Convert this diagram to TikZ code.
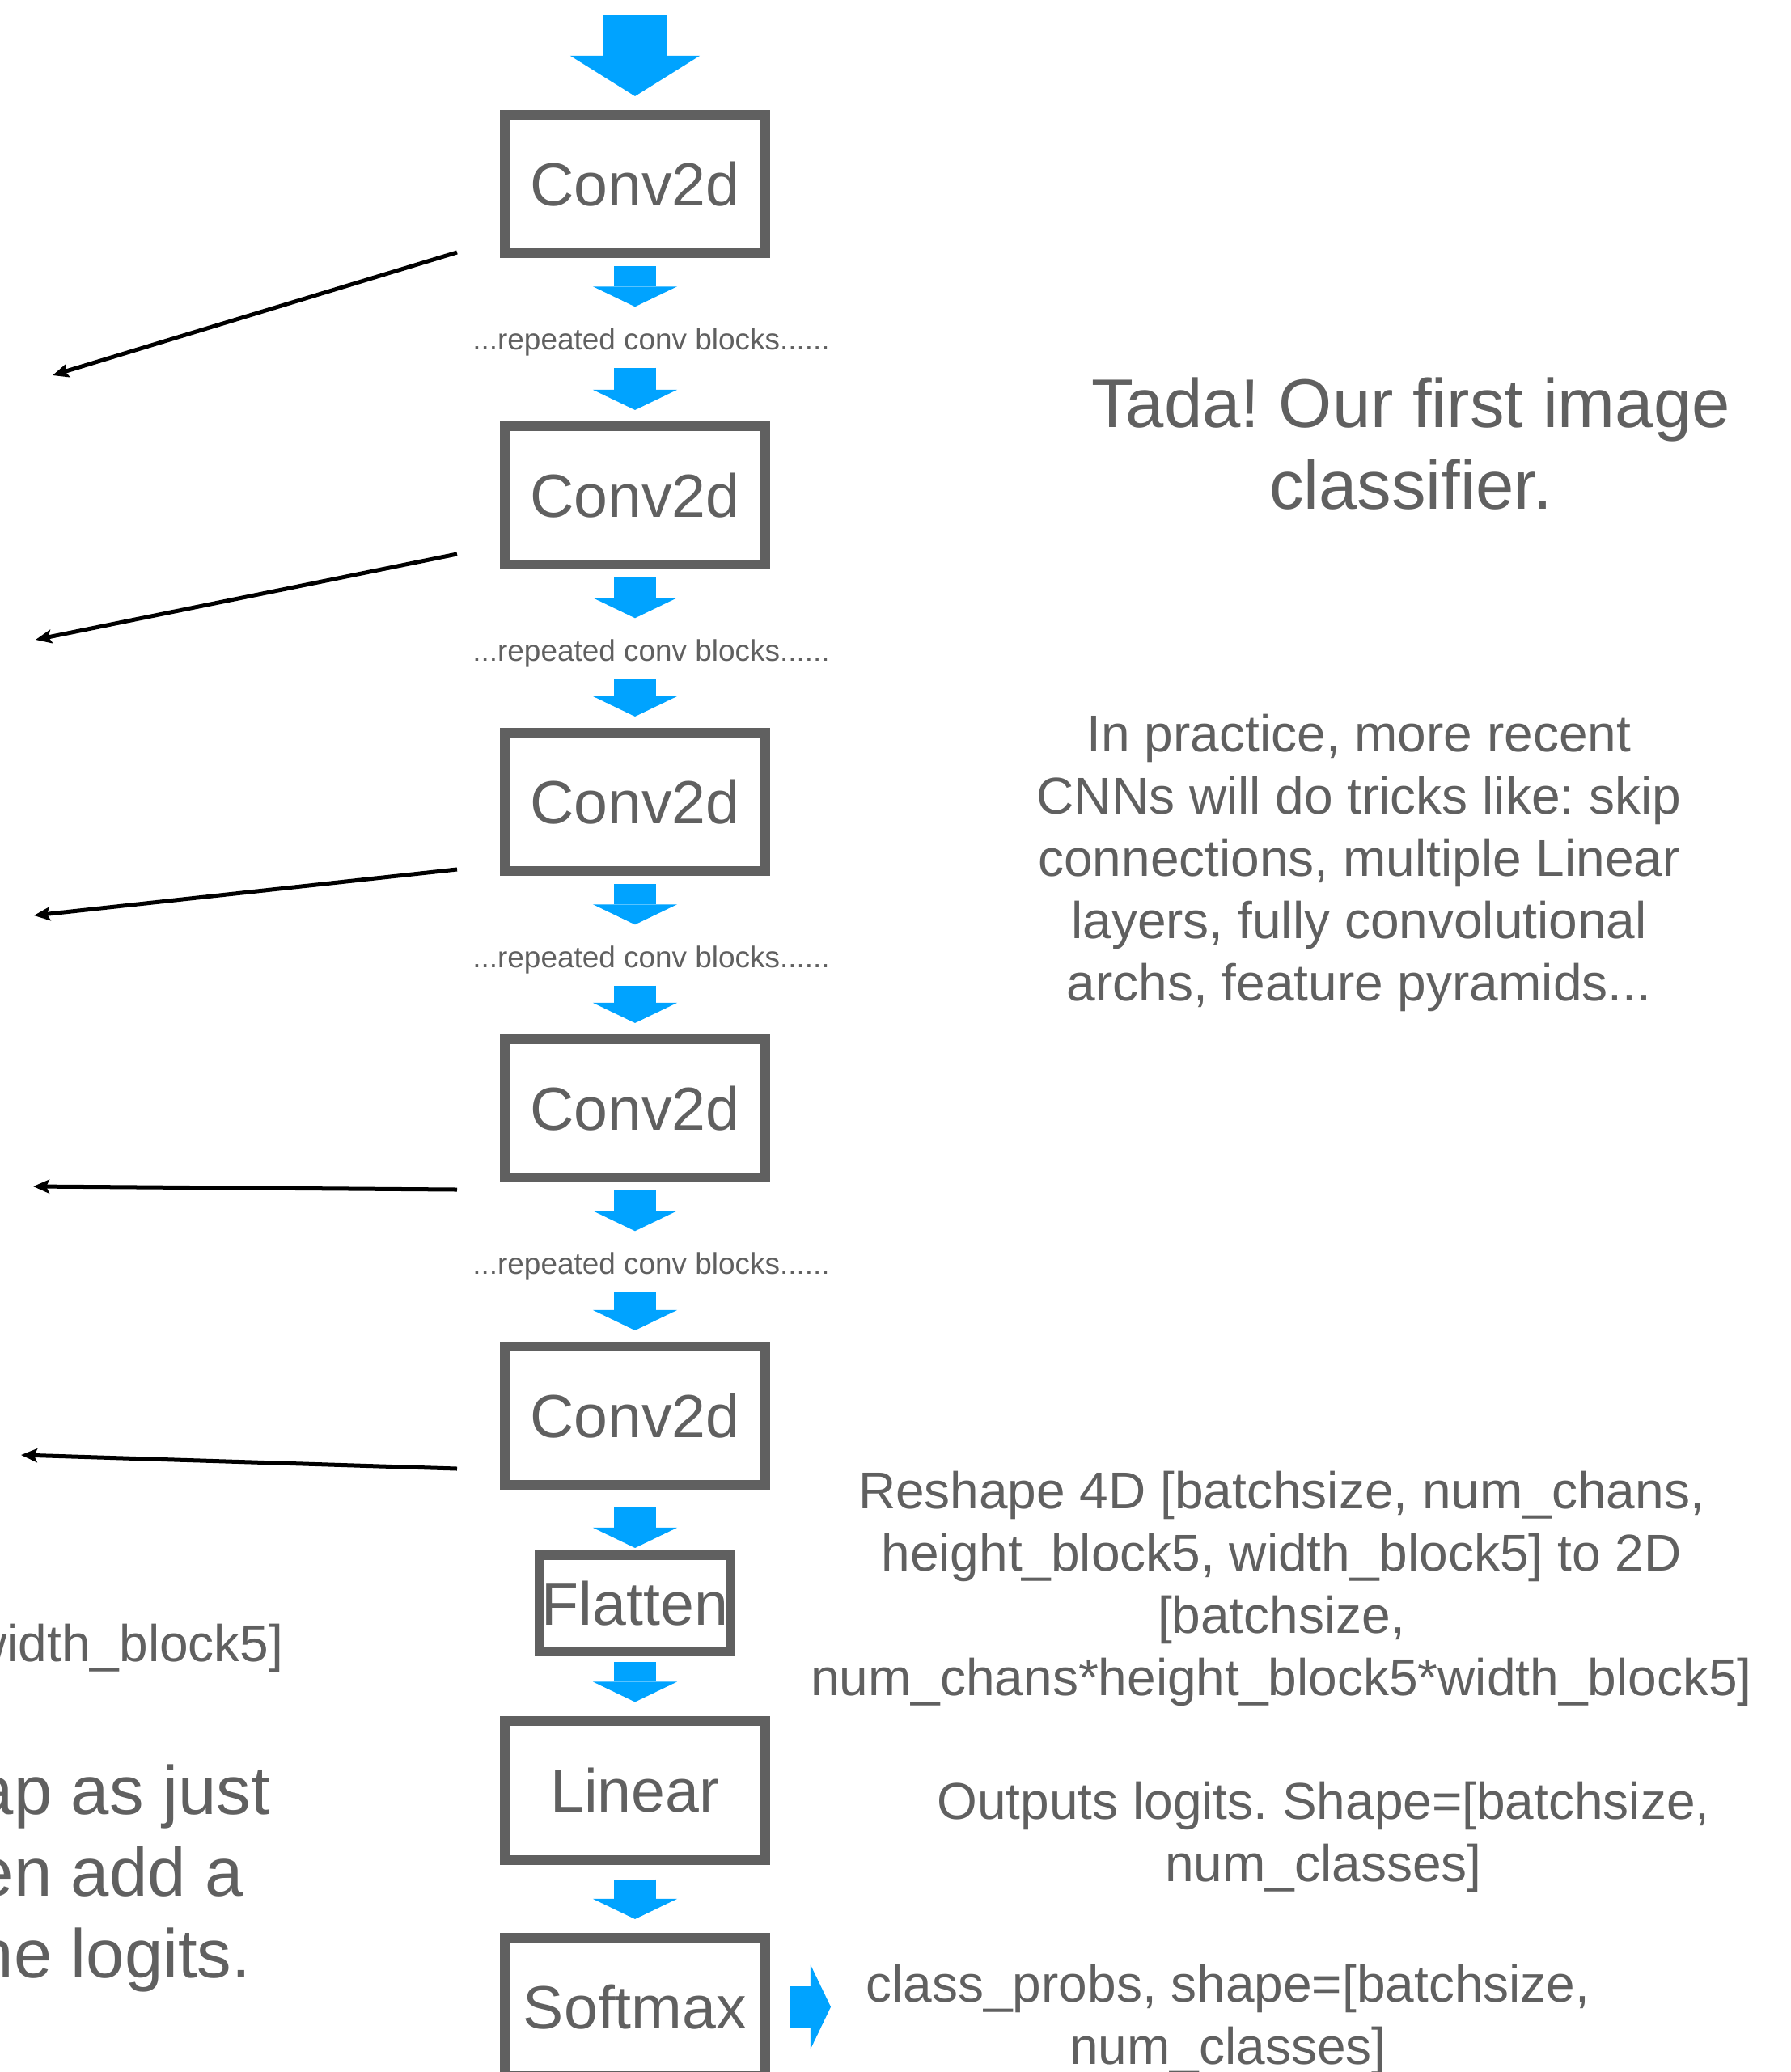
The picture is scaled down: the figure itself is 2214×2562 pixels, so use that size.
\documentclass[tikz,border=0pt]{standalone}
\usepackage{fontspec}
\setmainfont{Liberation Sans}
\usepackage{tikz}
\usetikzlibrary{arrows.meta}
\definecolor{flowblue}{RGB}{0,163,255}
\definecolor{inkgray}{RGB}{96,96,96}
\frenchspacing

\begin{document}
\begin{tikzpicture}[x=0.01cm, y=0.01cm]
      \tikzstyle{layer} = [draw=inkgray, line width=0.12cm, minimum width=3.22cm, minimum height=1.71cm, inner sep=0pt, text=inkgray, font=\fontsize{21.4}{26}\selectfont]
      \tikzstyle{flow} = [draw=flowblue, line width=0.52cm, -{Triangle[length=0.25cm, width=1.04cm, line width=0pt]}]
      \tikzstyle{bigflow} = [draw=flowblue, line width=0.8cm, -{Triangle[length=0.5cm, width=1.6cm, line width=0pt]}]
      \tikzstyle{dots} = [inner sep=0pt, text height=0.27cm, text depth=0.08cm, text=inkgray, font=\fontsize{10.5}{12}\selectfont]
      \tikzstyle{note} = [inner sep=0pt, align=center, text=inkgray, font=\fontsize{18.2}{21.9}\selectfont]
      \tikzstyle{bignote} = [inner sep=0pt, align=center, text=inkgray, font=\fontsize{24.2}{28.7}\selectfont]
      \tikzstyle{tap} = [draw=black, line width=0.05cm, -{Stealth[length=0.2cm, width=0.17cm, inset=0.04cm]}]
      \useasboundingbox (0,0) rectangle (2214,-2562);
      \clip (0,0) rectangle (2214,-2562);
      \coordinate (input) at (785,-19);
      \foreach \i/\ytop in {1/136, 2/521, 3/900, 4/1279, 5/1659}{
        \node[layer] (conv\i) at (785,-\ytop-91.5) {Conv2d};
      }
      \foreach \i/\ytop in {1/136, 2/521, 3/900, 4/1279}{
        \node[dots, anchor=base] (dots\i) at (805,-\ytop-296) {...repeated conv blocks......};
      }
      \node[layer, minimum width=2.35cm, minimum height=1.19cm] (flatten) at (785,-1982.5) {Flatten};
      \node[layer] (linear) at (785,-2214) {Linear};
      \node[layer] (softmax) at (785,-2481.5) {Softmax};
      \coordinate (out) at (1027,-2481.5);
      \draw[bigflow, shorten >=0.17cm] (input) -- (conv1.north);
      \foreach \i [count=\j from 2] in {1,...,4}{
        \draw[flow, shorten <=0.1cm, shorten >=0.25cm] (conv\i.south) -- (conv\i.south |- dots\i.north);
        \draw[flow, shorten <=0.14cm, shorten >=0.14cm] (conv\j.north |- dots\i.south) -- (conv\j.north);
      }
      \draw[flow, shorten <=0.22cm, shorten >=0.03cm] (conv5.south) -- (flatten.north);
      \draw[flow, shorten <=0.07cm, shorten >=0.18cm] (flatten.south) -- (linear.north);
      \draw[flow, shorten <=0.18cm, shorten >=0.17cm] (linear.south) -- (softmax.north);
      \draw[flow, shorten <=0.25cm] (softmax.east) -- (out);
      \node[bignote] (tada) at (1744,-548.5) {Tada! Our first image\\classifier.};
      \node[note] (practice) at (1680,-1067) {In practice, more recent\\CNNs will do tricks like: skip\\connections, multiple Linear\\layers, fully convolutional\\archs, feature pyramids...};
      \node[note] (reshape) at (1584,-1964.5) {Reshape 4D [batchsize, num\_chans,\\height\_block5, width\_block5] to 2D\\{[}batchsize,\\num\_chans*height\_block5*width\_block5]};
      \node[note] (logits) at (1636,-2271.5) {Outputs logits. Shape=[batchsize,\\num\_classes]};
      \node[note] (probs) at (1518,-2497.5) {class\_probs, shape=[batchsize,\\num\_classes]};
      \node[note, anchor=base east] (shape) at (351,-2054) {width\_block5]};
      \node[bignote, align=left, anchor=north west] (summary) at (-31,-2181) {ap as just\\en add a\\ne logits.};
      \foreach \i/\ys/\xe/\ye in {1/312/65/464, 2/685/44/791, 3/1075/42/1132, 4/1471/41/1467, 5/1816/26/1799}{
        \coordinate (from\i) at (565,-\ys);
        \coordinate (to\i) at (\xe,-\ye);
        \draw[tap] (from\i) -- (to\i);
      }
    \end{tikzpicture}
\end{document}
